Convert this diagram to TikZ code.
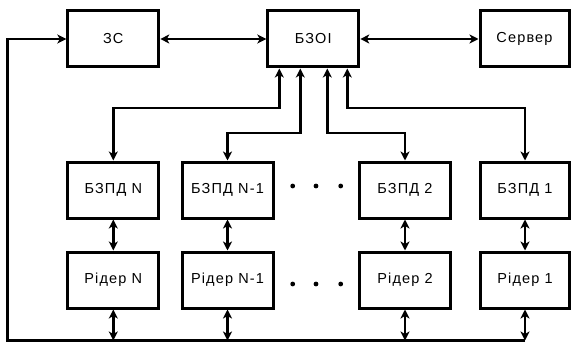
\documentclass[tikz,border=0pt]{standalone}
\usepackage{fontspec}
\setmainfont{Liberation Sans}[LetterSpace=8.0]
\usetikzlibrary{calc, positioning}
\usetikzlibrary{arrows.meta}

\begin{document}
\begin{tikzpicture}[x=1pt, y=1pt,
  block/.style={draw, line width=3pt, minimum width=91pt, minimum height=56pt, inner sep=0pt, font=\fontsize{14.5}{16}\selectfont},
  link/.style={line width=2.6pt, {Stealth[length=9pt, width=9pt, inset=2.5pt]}-{Stealth[length=9pt, width=9pt, inset=2.5pt]}},
  feed/.style={line width=2.6pt, -{Stealth[length=9pt, width=9pt, inset=2.5pt]}}]
\def\ytop{-39}
\def\ymid{-190}
\def\ybot{-280}
\def\ybus{-340.5}

\useasboundingbox (0,0) rectangle (571,-345);

\node[block] (zs) at (113.3,\ytop) {ЗС};
\node[block] (bzoi) at (313.3,\ytop) {БЗОІ};
\node[block, minimum width=89pt] (server) at (524.5,\ytop) {Сервер};

\node[block] (bzpdN) at (113.3,\ymid) {БЗПД N};
\node[block] (bzpdNm) at (227.5,\ymid) {БЗПД N-1};
\node[block] (bzpdB) at (405,\ymid) {БЗПД 2};
\node[block, minimum width=89pt] (bzpdA) at (525,\ymid) {БЗПД 1};

\node[block] (readerN) at (113.3,\ybot) {Рідер N};
\node[block] (readerNm) at (227.5,\ybot) {Рідер N-1};
\node[block] (readerB) at (405,\ybot) {Рідер 2};
\node[block, minimum width=89pt] (readerA) at (525,\ybot) {Рідер 1};

\coordinate (busL) at (7.3,\ybus);

\draw[link] (zs) -- (bzoi);
\draw[link] (bzoi) -- (server);

\draw[link] ($(bzoi.south)+(-34,0)$) -- ++(0,-39.5) -| (bzpdN.north);
\draw[link] ($(bzoi.south)+(-13,0)$) -- ++(0,-64.5) -| (bzpdNm.north);
\draw[link] ($(bzoi.south)+(14,0)$) -- ++(0,-64.5) -| (bzpdB.north);
\draw[link] ($(bzoi.south)+(34,0)$) -- ++(0,-39.5) -| (bzpdA.north);

\draw[link] (bzpdN) -- (readerN);
\draw[link] (bzpdNm) -- (readerNm);
\draw[link] (bzpdB) -- (readerB);
\draw[link] (bzpdA) -- (readerA);

\draw[feed] (readerA.south |- busL) -- (busL) |- (zs.west);

\draw[link] (readerN.south) -- (readerN.south |- busL);
\draw[link] (readerNm.south) -- (readerNm.south |- busL);
\draw[link] (readerB.south) -- (readerB.south |- busL);
\draw[link] (readerA.south) -- (readerA.south |- busL);

\foreach \dx in {292.7, 316, 340.7} {
  \fill (\dx,-186) circle (2.4pt);
  \fill (\dx,-284) circle (2.4pt);
}
\end{tikzpicture}
\end{document}
